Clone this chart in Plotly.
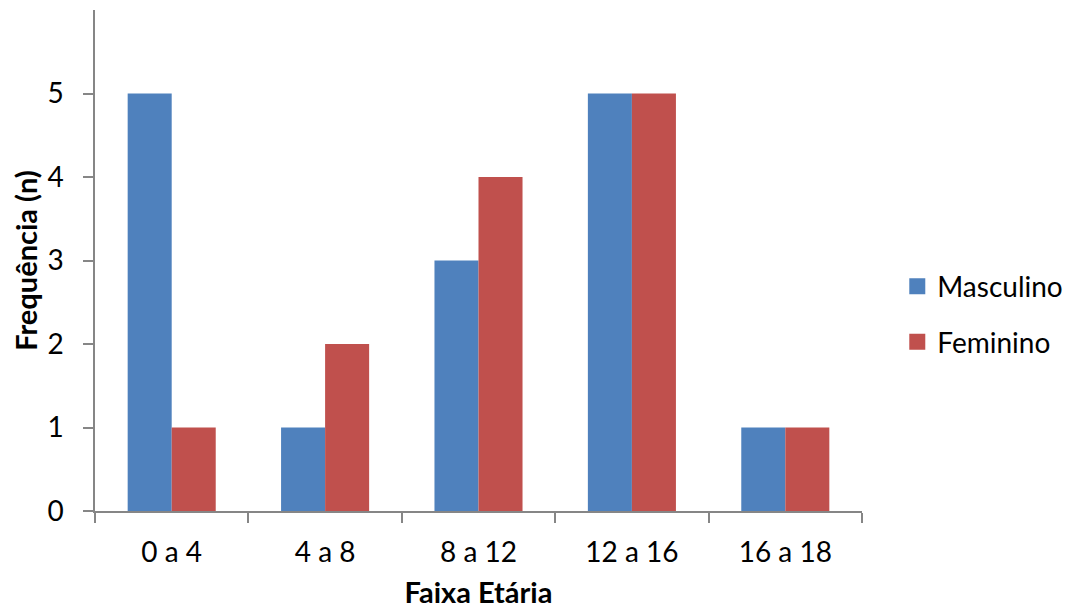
import plotly.graph_objects as go

categories = ["0 a 4", "4 a 8", "8 a 12", "12 a 16", "16 a 18"]
masculino = [5, 1, 3, 5, 1]
feminino = [1, 2, 4, 5, 1]
y_ticks = [0, 1, 2, 3, 4, 5]

BLUE = "#4F81BD"
RED = "#C0504D"
AXIS = "#868686"
FONT = "Lato, Carlito, Calibri, sans-serif"

fig = go.Figure()
fig.add_trace(go.Bar(x=categories, y=masculino, name="Masculino", marker_color=BLUE,
                     marker_line_width=0, showlegend=False))
fig.add_trace(go.Bar(x=categories, y=feminino, name="Feminino", marker_color=RED,
                     marker_line_width=0, showlegend=False))
for nm, col in [("Masculino", BLUE), ("Feminino", RED)]:
    fig.add_trace(go.Scatter(x=[None], y=[None], mode="markers", name=nm, legendgroup=nm,
                             marker=dict(symbol="square", size=20, color=col)))

fig.update_layout(
    width=1071, height=611,
    margin=dict(l=87, r=217, t=2, b=108, autoexpand=False),
    paper_bgcolor="white", plot_bgcolor="white",
    barmode="group", bargap=0.426, bargroupgap=0,
    font=dict(family=FONT, size=28, color="#000000"),
    legend=dict(x=1.046, xanchor="left", y=0.393, yanchor="middle",
                font=dict(size=28), tracegroupgap=16, itemwidth=30,
                traceorder="grouped", bgcolor="rgba(0,0,0,0)"),
    xaxis=dict(
        type="category", showgrid=False, showline=True, linecolor=AXIS, linewidth=1.5,
        automargin=False,
        ticks="outside", tickson="boundaries", ticklen=10, tickcolor=AXIS, tickwidth=1.5,
        ticklabelstandoff=16,
        title=dict(text="<b>Faixa Etária</b>", standoff=15, font=dict(size=29)),
    ),
    yaxis=dict(
        range=[0, 6], tickvals=y_ticks, showgrid=False, zeroline=False,
        showline=True, linecolor=AXIS, linewidth=1.5, automargin=False,
        ticks="outside", ticklen=10, tickcolor=AXIS, tickwidth=1.5,
        ticklabelstandoff=14,
        title=dict(text="<b>Frequência (n)</b>", standoff=9, font=dict(size=29)),
    ),
)

fig.write_html("out.html")
